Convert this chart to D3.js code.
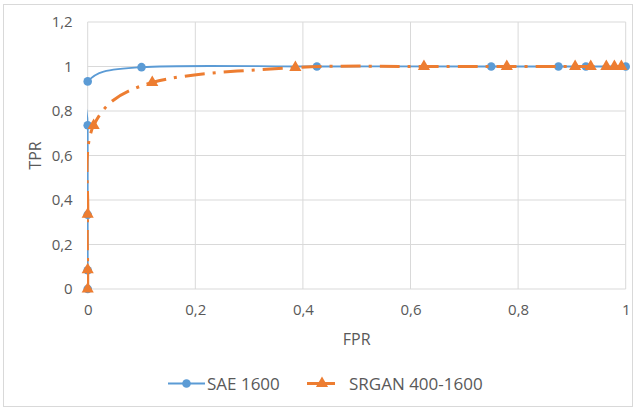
<!DOCTYPE html>
<html lang="en">
	<head>
		<meta charset="utf-8">
		<title>ROC</title>
		<script type="text/javascript" src="https://cdn.jsdelivr.net/npm/d3@7"></script>
		<style type="text/css">
			body{
				margin: 0;
				background: white;
			}
			text{
				font-family: "Open Sans", sans-serif;
				fill: #595959;
			}
			.tick{
				font-size: 15px;
			}
			.axisTitle{
				font-size: 16px;
			}
			.legend{
				font-size: 17px;
			}
		</style>
	</head>
	<body>
		<div class="chart"></div>
		<script type="text/javascript">

			// SAE 1600
			var saeFpr = [0, 0, 0, 0, 0, 0.1, 0.426, 0.75, 0.875, 0.926, 1];
			var saeTpr = [0, 0.084, 0.334, 0.736, 0.933, 0.997, 1, 1, 1, 1, 1];

			// SRGAN 400-1600
			var srFpr = [0, 0, 0, 0.011, 0.12, 0.386, 0.625, 0.779, 0.906, 0.935, 0.964, 0.979, 0.992];
			var srTpr = [0, 0.086, 0.336, 0.735, 0.928, 0.995, 1, 1, 1, 1, 1, 1, 1];

			var xTicks = [0, 0.2, 0.4, 0.6, 0.8, 1];
			var yTicks = [0, 0.2, 0.4, 0.6, 0.8, 1, 1.2];
			var seriesNames = ["SAE 1600", "SRGAN 400-1600"];

			var w = 637;
			var h = 409;

			var pLeft = 87.7, pRight = 625.7, pTop = 22, pBottom = 289;

			var blue = "#5B9BD5";
			var orange = "#ED7D31";
			var grid = "#d9d9d9";

			var fmt = function(d){ return String(d).replace(".", ","); };

			var svg = d3.select("div.chart")
						.append("svg")
						.attr("width", w)
						.attr("height", h);

			// chart border
			svg.append("rect")
				.attr("x", 3.5)
				.attr("y", 4.5)
				.attr("width", 629)
				.attr("height", 402)
				.attr("fill", "white")
				.attr("stroke", grid);

			var xScale = d3.scaleLinear().domain([0, 1]).range([pLeft, pRight]);
			var yScale = d3.scaleLinear().domain([0, 1.2]).range([pBottom, pTop]);

			// grid
			svg.append("g")
				.selectAll("line")
				.data(xTicks)
				.enter()
				.append("line")
				.attr("x1", (d) => xScale(d))
				.attr("x2", (d) => xScale(d))
				.attr("y1", pTop)
				.attr("y2", pBottom)
				.attr("stroke", grid);

			svg.append("g")
				.selectAll("line")
				.data(yTicks)
				.enter()
				.append("line")
				.attr("x1", pLeft)
				.attr("x2", pRight)
				.attr("y1", (d) => yScale(d))
				.attr("y2", (d) => yScale(d))
				.attr("stroke", grid);

			// axes (labels only)
			var xAxis = d3.axisBottom(xScale).tickValues(xTicks).tickFormat(fmt).tickSize(0).tickPadding(15);
			var yAxis = d3.axisLeft(yScale).tickValues(yTicks).tickFormat(fmt).tickSize(0).tickPadding(15);

			var gx = svg.append("g")
				.attr("transform", "translate(0," + pBottom + ")")
				.call(xAxis);
			gx.select(".domain").remove();

			var gy = svg.append("g")
				.attr("transform", "translate(" + pLeft + ",0)")
				.call(yAxis);
			gy.select(".domain").remove();

			gx.attr("font-family", null).attr("font-size", null);
			gy.attr("font-family", null).attr("font-size", null);
			svg.selectAll(".tick text").attr("fill", null);

			svg.append("text")
				.attr("class", "axisTitle")
				.attr("x", (pLeft + pRight) / 2)
				.attr("y", 345)
				.attr("text-anchor", "middle")
				.text("FPR");

			svg.append("text")
				.attr("class", "axisTitle")
				.attr("transform", "translate(41," + ((pTop + pBottom) / 2) + ") rotate(-90)")
				.attr("text-anchor", "middle")
				.text("TPR");

			// lines, clipped to the plot area like the original
			svg.append("clipPath")
				.attr("id", "plotClip")
				.append("rect")
				.attr("x", pLeft - 0.6)
				.attr("y", pTop)
				.attr("width", pRight - pLeft + 4)
				.attr("height", pBottom - pTop + 2);

			var line = d3.line()
						.x((d) => xScale(d[0]))
						.y((d) => yScale(d[1]))
						.curve(d3.curveCardinal.tension(0));

			var sae = saeFpr.map((d, i) => [d, saeTpr[i]]);
			var sr = srFpr.map((d, i) => [d, srTpr[i]]);

			svg.append("path")
				.datum(sae)
				.attr("clip-path", "url(#plotClip)")
				.attr("d", line)
				.attr("fill", "none")
				.attr("stroke", blue)
				.attr("stroke-width", 1.8);

			svg.selectAll("circle.sae")
				.data(sae)
				.enter()
				.append("circle")
				.attr("class", "sae")
				.attr("cx", (d) => xScale(d[0]))
				.attr("cy", (d) => yScale(d[1]))
				.attr("r", 4.3)
				.attr("fill", blue);

			svg.append("path")
				.datum(sr)
				.attr("clip-path", "url(#plotClip)")
				.attr("d", line)
				.attr("fill", "none")
				.attr("stroke", orange)
				.attr("stroke-width", 3)
				.attr("stroke-dasharray", "20,8,3,8");

			var tri = d3.symbol().type(d3.symbolTriangle).size(64);

			svg.selectAll("path.sr")
				.data(sr)
				.enter()
				.append("path")
				.attr("class", "sr")
				.attr("d", tri)
				.attr("transform", (d) => "translate(" + xScale(d[0]) + "," + yScale(d[1]) + ")")
				.attr("fill", orange);

			// legend
			var ly = 383.5;
			var legend = svg.append("g");

			legend.append("line")
				.attr("x1", 168).attr("x2", 205)
				.attr("y1", ly).attr("y2", ly)
				.attr("stroke", blue)
				.attr("stroke-width", 1.8);
			legend.append("circle")
				.attr("cx", 186.5).attr("cy", ly)
				.attr("r", 4.3)
				.attr("fill", blue);
			legend.append("text")
				.attr("class", "legend")
				.attr("x", 207)
				.attr("y", ly + 6)
				.text(seriesNames[0]);

			legend.append("line")
				.attr("x1", 307).attr("x2", 335)
				.attr("y1", ly).attr("y2", ly)
				.attr("stroke", orange)
				.attr("stroke-width", 3);
			legend.append("path")
				.attr("d", tri)
				.attr("transform", "translate(322," + ly + ")")
				.attr("fill", orange);
			legend.append("text")
				.attr("class", "legend")
				.attr("x", 349)
				.attr("y", ly + 6)
				.text(seriesNames[1]);

		</script>
	</body>
</html>
